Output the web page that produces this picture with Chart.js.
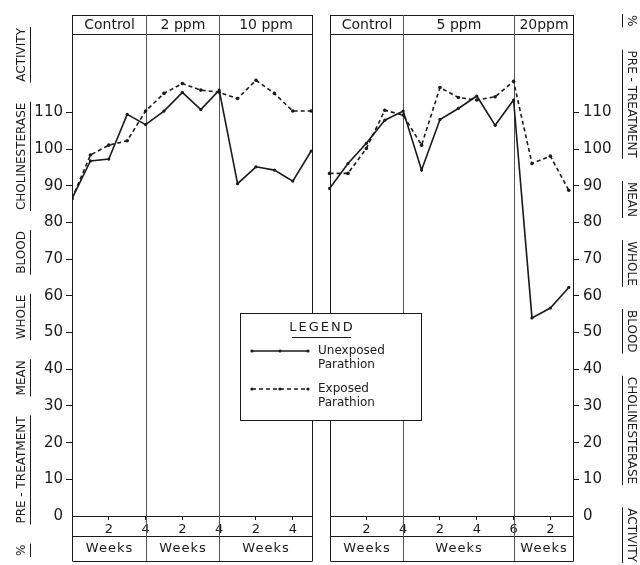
<!DOCTYPE html>
<html>
<head>
<meta charset="utf-8">
<script src="https://cdn.jsdelivr.net/npm/chart.js@4"></script>
<style>
  html, body { margin: 0; padding: 0; background: #fff; }
  canvas { display: block; }
</style>
</head>
<body>
<canvas id="cholChart" width="640" height="565"></canvas>
<script>
// ====== Data ======
const weeks = [0, 1, 2, 3, 4, 5, 6, 7, 8, 9, 10, 11, 12, 13];

const leftUnexposed  = [86.5, 96.8, 97.3, 109.5, 106.7, 110.4, 115.5, 110.8, 116.1, 90.6, 95.2, 94.3, 91.3, 99.5];
const leftExposed    = [86.5, 98.4, 101.1, 102.3, 110.4, 115.2, 117.9, 116.1, 115.5, 113.8, 118.8, 115.2, 110.4, 110.4];
const rightUnexposed = [89.3, 96.1, 101.6, 107.9, 110.4, 94.3, 108.1, 111.1, 114.5, 106.5, 113.4, 54.0, 56.7, 62.3];
const rightExposed   = [93.4, 93.4, 100.2, 110.6, 109.3, 101.1, 116.8, 114.1, 113.4, 114.3, 118.5, 96.1, 98.1, 88.8];

const leftSections  = ['Control', '2 ppm', '10 ppm'];
const rightSections = ['Control', '5 ppm', '20ppm'];
const leftBounds  = [0, 4, 8, 13.05];
const rightBounds = [0, 4, 10, 13.23];

const leftTickWeeks   = [2, 4, 6, 8, 10, 12];
const leftTickLabels  = ['2', '4', '2', '4', '2', '4'];
const rightTickWeeks  = [2, 4, 6, 8, 10, 12];
const rightTickLabels = ['2', '4', '2', '4', '6', '2'];

const yTicks = [0, 10, 20, 30, 40, 50, 60, 70, 80, 90, 100, 110];

const titleWords = ['%', 'PRE - TREATMENT', 'MEAN', 'WHOLE', 'BLOOD', 'CHOLINESTERASE', 'ACTIVITY'];

// right panel sits after the left one on the same week axis
const RIGHT_OFFSET = 14;
const X_MAX = 27.23;
const INK = '#1a1a1a';
const FONT = '"DejaVu Sans", sans-serif';

// ====== Build points ======
function panelPoints(left, right) {
  const pts = weeks.map((w, i) => ({ x: w, y: left[i] }));
  pts.push({ x: 13.6, y: null }); // break between panels
  weeks.forEach((w, i) => pts.push({ x: w + RIGHT_OFFSET, y: right[i] }));
  return pts;
}

const allTickWeeks = leftTickWeeks.concat(rightTickWeeks.map(w => w + RIGHT_OFFSET));
const allTickLabels = leftTickLabels.concat(rightTickLabels);

// ====== Frame: header bands, week bands, dividers ======
const framePlugin = {
  id: 'frame',
  beforeDatasetsDraw(chart) {
    const { ctx, chartArea: a, scales: { x } } = chart;
    const top = 15, head = a.top, tickBand = 536, bottom = 561;
    const panels = [
      { bounds: leftBounds.map(b => b), names: leftSections },
      { bounds: rightBounds.map(b => b + RIGHT_OFFSET), names: rightSections }
    ];
    ctx.save();
    ctx.strokeStyle = INK;
    ctx.lineWidth = 1;
    panels.forEach(p => {
      const px = p.bounds.map(b => Math.round(x.getPixelForValue(b)) + 0.5);
      const x0 = px[0], x1 = px[px.length - 1];
      [top, head, a.bottom, tickBand, bottom].forEach(y => {
        ctx.beginPath();
        ctx.moveTo(x0, y + 0.5);
        ctx.lineTo(x1, y + 0.5);
        ctx.stroke();
      });
      px.forEach((v, i) => {
        ctx.strokeStyle = (i === 0 || i === px.length - 1) ? INK : '#555';
        ctx.beginPath();
        ctx.moveTo(v, top);
        ctx.lineTo(v, bottom);
        ctx.stroke();
      });
      ctx.fillStyle = INK;
      ctx.textAlign = 'center';
      ctx.textBaseline = 'middle';
      p.names.forEach((n, i) => {
        const mid = (px[i] + px[i + 1]) / 2;
        ctx.font = '14px ' + FONT;
        ctx.fillText(n, mid, 25);
        ctx.font = '13px ' + FONT;
        ctx.letterSpacing = '1px';
        ctx.fillText('Weeks', mid, 549);
        ctx.letterSpacing = '0px';
      });
    });
    ctx.restore();
  },
  afterDraw(chart) {
    const { ctx } = chart;
    ctx.save();
    // legend box
    ctx.fillStyle = '#fff';
    ctx.fillRect(240, 313, 181, 107);
    ctx.strokeStyle = INK;
    ctx.lineWidth = 1;
    ctx.strokeRect(240.5, 313.5, 181, 107);
    ctx.fillStyle = INK;
    ctx.font = '13px ' + FONT;
    ctx.textAlign = 'center';
    ctx.textBaseline = 'middle';
    ctx.letterSpacing = '2px';
    ctx.fillText('LEGEND', 322, 328);
    ctx.letterSpacing = '0px';
    ctx.beginPath();
    ctx.moveTo(292, 337.5);
    ctx.lineTo(351, 337.5);
    ctx.stroke();

    const samples = [
      { y: 351, dash: [], lines: ['Unexposed', 'Parathion'] },
      { y: 389, dash: [4, 3], lines: ['Exposed', 'Parathion'] }
    ];
    samples.forEach(s => {
      ctx.setLineDash(s.dash);
      ctx.lineWidth = 1.5;
      ctx.beginPath();
      ctx.moveTo(252, s.y);
      ctx.lineTo(308, s.y);
      ctx.stroke();
      ctx.setLineDash([]);
      [252, 280, 308].forEach(d => {
        ctx.beginPath();
        ctx.arc(d, s.y, 1.6, 0, Math.PI * 2);
        ctx.fill();
      });
      ctx.font = '12px ' + FONT;
      ctx.textAlign = 'left';
      ctx.fillText(s.lines[0], 318, s.y);
      ctx.fillText(s.lines[1], 318, s.y + 14);
    });

    // vertical axis titles, words spread along the side and underlined
    drawSideTitle(ctx, 22, 556, 28, -1);
    drawSideTitle(ctx, 631, 15, 562, 1);
    ctx.restore();
  }
};

function drawSideTitle(ctx, cx, yStart, yEnd, dir) {
  ctx.save();
  ctx.font = '12px ' + FONT;
  ctx.fillStyle = INK;
  ctx.strokeStyle = INK;
  ctx.lineWidth = 1;
  ctx.textAlign = 'left';
  ctx.textBaseline = 'middle';
  const widths = titleWords.map(w => ctx.measureText(w).width);
  const len = Math.abs(yEnd - yStart);
  const gap = (len - widths.reduce((s, w) => s + w, 0)) / (titleWords.length - 1);
  ctx.translate(cx, yStart);
  ctx.rotate(dir * Math.PI / 2);
  let pos = 0;
  titleWords.forEach((w, i) => {
    ctx.fillText(w, pos, 0);
    ctx.beginPath();
    ctx.moveTo(pos - 1, 8.5);
    ctx.lineTo(pos + widths[i] + 1, 8.5);
    ctx.stroke();
    pos += widths[i] + gap;
  });
  ctx.restore();
}

// ====== Chart ======
const yAxisBase = {
  min: 0,
  max: 131.4,
  afterBuildTicks: s => { s.ticks = yTicks.map(v => ({ value: v })); },
  border: { display: false },
  grid: {
    drawOnChartArea: false,
    tickLength: 6,
    tickColor: c => (c.tick && c.tick.value === 0) ? 'rgba(0,0,0,0)' : INK
  },
  ticks: {
    color: INK,
    padding: 3,
    font: { family: FONT, size: 15 },
    callback: v => v
  }
};

const ctx = document.getElementById('cholChart').getContext('2d');
const cholChart = new Chart(ctx, {
  type: 'line',
  data: {
    datasets: [{
      label: 'Unexposed Parathion',
      data: panelPoints(leftUnexposed, rightUnexposed),
      borderColor: INK,
      backgroundColor: INK,
      borderWidth: 1.6,
      pointRadius: 1.6,
      pointBorderWidth: 0,
      tension: 0
    }, {
      label: 'Exposed Parathion',
      data: panelPoints(leftExposed, rightExposed),
      borderColor: INK,
      backgroundColor: INK,
      borderWidth: 1.6,
      borderDash: [4, 3],
      pointRadius: 1.8,
      pointBorderWidth: 0,
      tension: 0
    }]
  },
  options: {
    responsive: false,
    animation: false,
    layout: { padding: { top: 34, left: 0, right: 0, bottom: 0 } },
    plugins: { legend: { display: false }, tooltip: { enabled: false } },
    scales: {
      x: {
        type: 'linear',
        min: 0,
        max: X_MAX,
        afterBuildTicks: s => { s.ticks = allTickWeeks.map(v => ({ value: v })); },
        afterFit: s => { s.height = 49; },
        border: { display: false },
        grid: { drawOnChartArea: false, tickLength: 4, tickColor: INK },
        ticks: {
          autoSkip: false,
          maxRotation: 0,
          padding: 2,
          color: INK,
          font: { family: FONT, size: 13 },
          callback: (v, i) => allTickLabels[i]
        }
      },
      y: Object.assign({}, yAxisBase, {
        position: 'left',
        afterFit: s => { s.width = 72; }
      }),
      y2: Object.assign({}, yAxisBase, {
        position: 'right',
        afterFit: s => { s.width = 67; },
        ticks: Object.assign({}, yAxisBase.ticks, { padding: 4 })
      })
    }
  },
  plugins: [framePlugin]
});
</script>
</body>
</html>
